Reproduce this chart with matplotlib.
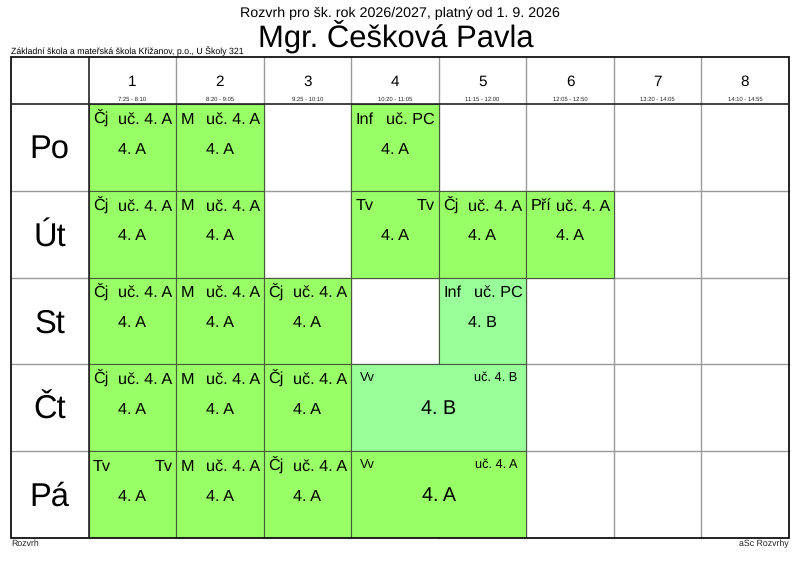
import matplotlib
matplotlib.use("Agg")
import matplotlib.pyplot as plt
from matplotlib.patches import Rectangle

plt.rcParams['font.family'] = ['Liberation Sans', 'DejaVu Sans']
plt.rcParams['text.hinting'] = 'no_hinting'

days = ["Po", "Út", "St", "Čt", "Pá"]
periods = [1, 2, 3, 4, 5, 6, 7, 8]
times = ["7:25 - 8:10", "8:20 - 9:05", "9:25 - 10:10", "10:20 - 11:05",
         "11:15 - 12:00", "12:05 - 12:50", "13:20 - 14:05", "14:10 - 14:55"]

# day index, first period index, span, subject, room, class
lesson_day = [0, 0, 0,
              1, 1, 1, 1, 1,
              2, 2, 2, 2,
              3, 3, 3, 3,
              4, 4, 4, 4]
lesson_period = [0, 1, 3,
                 0, 1, 3, 4, 5,
                 0, 1, 2, 4,
                 0, 1, 2, 3,
                 0, 1, 2, 3]
lesson_span = [1, 1, 1,
               1, 1, 1, 1, 1,
               1, 1, 1, 1,
               1, 1, 1, 2,
               1, 1, 1, 2]
lesson_subject = ["Čj", "M", "Inf",
                  "Čj", "M", "Tv", "Čj", "Pří",
                  "Čj", "M", "Čj", "Inf",
                  "Čj", "M", "Čj", "Vv",
                  "Tv", "M", "Čj", "Vv"]
lesson_room = ["uč. 4. A", "uč. 4. A", "uč. PC",
               "uč. 4. A", "uč. 4. A", "Tv", "uč. 4. A", "uč. 4. A",
               "uč. 4. A", "uč. 4. A", "uč. 4. A", "uč. PC",
               "uč. 4. A", "uč. 4. A", "uč. 4. A", "uč. 4. B",
               "Tv", "uč. 4. A", "uč. 4. A", "uč. 4. A"]
lesson_class = ["4. A", "4. A", "4. A",
                "4. A", "4. A", "4. A", "4. A", "4. A",
                "4. A", "4. A", "4. A", "4. B",
                "4. A", "4. A", "4. A", "4. B",
                "4. A", "4. A", "4. A", "4. A"]

class_colors = {"4. A": "#99FF66", "4. B": "#99FF99"}
W, H = 800, 566
GRID_L, GRID_R, GRID_T, GRID_B = 88.6, 788.8, 104.3, 537.8
OUT_L, OUT_T = 10.8, 56.8

fig = plt.figure(figsize=(8, 5.66), dpi=100)
ax = fig.add_axes([GRID_L / W, 1 - GRID_B / H, (GRID_R - GRID_L) / W, (GRID_B - GRID_T) / H])
ax.set_xlim(0, len(periods))
ax.set_ylim(len(days), 0)
ax.axis("off")

cell_w = (GRID_R - GRID_L) / len(periods)
cell_h = (GRID_B - GRID_T) / len(days)
left = (GRID_L - OUT_L) / cell_w     # width of the day column, in periods
head = (GRID_T - OUT_T) / cell_h     # height of the header row, in days

# thin grid first
for i in range(1, len(periods)):
    ax.plot([i, i], [-head, len(days)], color="#9a9a9a", lw=1, clip_on=False, zorder=1)
for j in range(1, len(days)):
    ax.plot([-left, len(periods)], [j, j], color="#9a9a9a", lw=1, clip_on=False, zorder=1)

# lessons
for d, p, s, subj, room, cls in zip(lesson_day, lesson_period, lesson_span,
                                    lesson_subject, lesson_room, lesson_class):
    ax.add_patch(Rectangle((p, d), s, 1, facecolor=class_colors[cls],
                           edgecolor="#4a5a40", lw=0.8, zorder=2))
    if s == 1:
        ax.text(p + 4.5 / cell_w, d + 19.5 / cell_h, subj, fontsize=11.7, ha="left", va="baseline", zorder=3)
        ax.text(p + s - 3.8 / cell_w, d + 19.5 / cell_h, room, fontsize=11.7, ha="right", va="baseline", zorder=3)
        ax.text(p + s / 2, d + 49.5 / cell_h, cls, fontsize=11.7, ha="center", va="baseline", zorder=3)
    else:
        ax.text(p + 9 / cell_w, d + 16.7 / cell_h, subj, fontsize=9.2, ha="left", va="baseline", zorder=3)
        ax.text(p + s - 9 / cell_w, d + 16.7 / cell_h, room, fontsize=9.2, ha="right", va="baseline", zorder=3)
        ax.text(p + s / 2, d + 49.7 / cell_h, cls, fontsize=14.2, ha="center", va="baseline", zorder=3)

# headers
for i, (n, t) in enumerate(zip(periods, times)):
    ax.text(i + 0.5, -head + 29 / cell_h, str(n), fontsize=11, ha="center", va="baseline", zorder=3)
    ax.text(i + 0.5, -head + 44.2 / cell_h, t, fontsize=4.2, color="#222222", ha="center", va="baseline", zorder=3)
for j, day in enumerate(days):
    ax.text(-left / 2, j + 54.5 / cell_h, day, fontsize=23.5, ha="center", va="baseline", zorder=3)

# thick frame lines
ax.add_patch(Rectangle((-left, -head), left + len(periods), head + len(days), fill=False,
                       edgecolor="#111111", lw=1.3, clip_on=False, zorder=4))
ax.plot([0, 0], [-head, len(days)], color="#222222", lw=1.2, clip_on=False, zorder=4)
ax.plot([-left, len(periods)], [0, 0], color="#222222", lw=1.2, clip_on=False, zorder=4)

fig.text(400 / W, 1 - 16.7 / H, "Rozvrh pro šk. rok 2026/2027, platný od 1. 9. 2026",
         fontsize=10.3, ha="center", va="baseline")
fig.text(396 / W, 1 - 46.7 / H, "Mgr. Češková Pavla", fontsize=22.3, ha="center", va="baseline")
fig.text(11 / W, 1 - 54 / H, "Základní škola a mateřská škola Křižanov, p.o., U Školy 321",
         fontsize=6.3, ha="left", va="baseline")
fig.text(11 / W, 1 - 546 / H, "Rozvrh", fontsize=6.3, color="#222222", ha="left", va="baseline")
fig.text(789 / W, 1 - 546 / H, "aSc Rozvrhy", fontsize=6.3, color="#222222", ha="right", va="baseline")

fig.savefig("out.png", dpi=100)
